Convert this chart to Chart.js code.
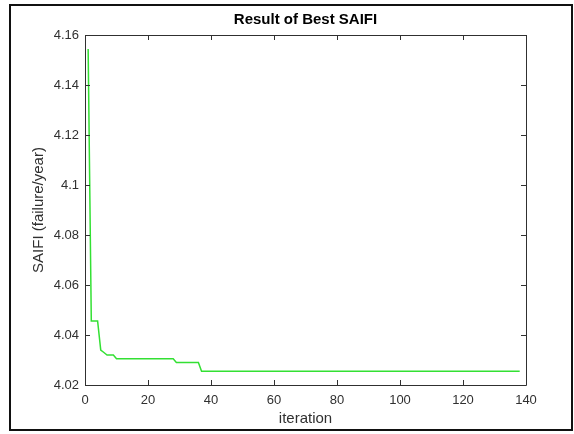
<!DOCTYPE html>
<html>
<head>
<meta charset="utf-8">
<title>Result of Best SAIFI</title>
<script src="https://cdn.jsdelivr.net/npm/chart.js@4.4.1/dist/chart.umd.min.js"></script>
<style>
  html, body { margin: 0; padding: 0; background: #fff; }
  canvas { display: block; }
</style>
</head>
<body>
<canvas id="saifiChart" width="574" height="434"></canvas>
<script>
// Valori (iterația 1..138)
const saifi = [
    4.1544, 4.0456, 4.0456, 4.0456, 4.0340, 4.0330, 4.0320, 4.0320, 4.0320, 4.0305,
    4.0305, 4.0305, 4.0305, 4.0305, 4.0305, 4.0305, 4.0305, 4.0305, 4.0305, 4.0305,
    4.0305, 4.0305, 4.0305, 4.0305, 4.0305, 4.0305, 4.0305, 4.0305, 4.0290, 4.0290,
    4.0290, 4.0290, 4.0290, 4.0290, 4.0290, 4.0290, 4.0255, 4.0255, 4.0255, 4.0255,
    4.0255, 4.0255, 4.0255, 4.0255, 4.0255, 4.0255, 4.0255, 4.0255, 4.0255, 4.0255,
    4.0255, 4.0255, 4.0255, 4.0255, 4.0255, 4.0255, 4.0255, 4.0255, 4.0255, 4.0255,
    4.0255, 4.0255, 4.0255, 4.0255, 4.0255, 4.0255, 4.0255, 4.0255, 4.0255, 4.0255,
    4.0255, 4.0255, 4.0255, 4.0255, 4.0255, 4.0255, 4.0255, 4.0255, 4.0255, 4.0255,
    4.0255, 4.0255, 4.0255, 4.0255, 4.0255, 4.0255, 4.0255, 4.0255, 4.0255, 4.0255,
    4.0255, 4.0255, 4.0255, 4.0255, 4.0255, 4.0255, 4.0255, 4.0255, 4.0255, 4.0255,
    4.0255, 4.0255, 4.0255, 4.0255, 4.0255, 4.0255, 4.0255, 4.0255, 4.0255, 4.0255,
    4.0255, 4.0255, 4.0255, 4.0255, 4.0255, 4.0255, 4.0255, 4.0255, 4.0255, 4.0255,
    4.0255, 4.0255, 4.0255, 4.0255, 4.0255, 4.0255, 4.0255, 4.0255, 4.0255, 4.0255,
    4.0255, 4.0255, 4.0255, 4.0255, 4.0255, 4.0255, 4.0255, 4.0255
];

const xTicks = [0, 20, 40, 60, 80, 100, 120, 140];
const yTicks = [4.02, 4.04, 4.06, 4.08, 4.1, 4.12, 4.14, 4.16];
const yTickLabels = ['4.02', '4.04', '4.06', '4.08', '4.1', '4.12', '4.14', '4.16'];

const AXIS_COLOR = '#303030';
const FONT = "'Liberation Sans', Arial, Helvetica, sans-serif";

Chart.defaults.font.family = FONT;
Chart.defaults.color = AXIS_COLOR;

// Chenar exterior + cutia axelor cu gradații spre interior
const matlabBox = {
    id: 'matlabBox',
    beforeDraw: (chart) => {
        const ctx = chart.ctx;
        ctx.save();
        ctx.fillStyle = '#fff';
        ctx.fillRect(0, 0, chart.width, chart.height);
        ctx.strokeStyle = '#111';
        ctx.lineWidth = 2;
        ctx.strokeRect(10, 5, 562, 425);
        ctx.restore();
    },
    afterDraw: (chart) => {
        const ctx = chart.ctx;
        const { left, right, top, bottom } = chart.chartArea;
        const xs = chart.scales.x;
        const ys = chart.scales.y;
        const len = 5;
        ctx.save();
        ctx.strokeStyle = AXIS_COLOR;
        ctx.lineWidth = 1;
        ctx.beginPath();
        ctx.rect(Math.round(left) + 0.5, Math.round(top) + 0.5,
                 Math.round(right - left), Math.round(bottom - top));
        xs.ticks.forEach(t => {
            const px = Math.round(xs.getPixelForValue(t.value)) + 0.5;
            ctx.moveTo(px, bottom);
            ctx.lineTo(px, bottom - len);
            ctx.moveTo(px, top);
            ctx.lineTo(px, top + len);
        });
        ys.ticks.forEach(t => {
            const py = Math.round(ys.getPixelForValue(t.value)) + 0.5;
            ctx.moveTo(left, py);
            ctx.lineTo(left + len, py);
            ctx.moveTo(right, py);
            ctx.lineTo(right - len, py);
        });
        ctx.stroke();
        ctx.restore();
    }
};

new Chart(document.getElementById('saifiChart'), {
    type: 'line',
    data: {
        datasets: [{
            data: saifi.map((v, i) => ({ x: i + 1, y: v })),
            borderColor: '#33e033',
            borderWidth: 1.5,
            pointRadius: 0,
            tension: 0,
            fill: false
        }]
    },
    options: {
        responsive: false,
        animation: false,
        devicePixelRatio: 1,
        layout: { padding: { left: 0, right: 48, top: 0, bottom: 0 } },
        plugins: {
            legend: { display: false },
            tooltip: { enabled: false },
            title: {
                display: true,
                text: 'Result of Best SAIFI',
                fullSize: false,
                color: '#000',
                font: { family: FONT, size: 15, weight: 'bold' },
                padding: { top: 11, bottom: 6 }
            }
        },
        scales: {
            x: {
                type: 'linear',
                min: 0,
                max: 140,
                afterBuildTicks: (scale) => { scale.ticks = xTicks.map(v => ({ value: v })); },
                afterFit: (scale) => { scale.height = 49; },
                grid: { drawOnChartArea: false, drawTicks: false },
                border: { display: false },
                ticks: {
                    font: { size: 13 },
                    color: AXIS_COLOR,
                    padding: 8,
                    maxRotation: 0,
                    callback: (value) => String(value)
                },
                title: {
                    display: true,
                    text: 'iteration',
                    color: AXIS_COLOR,
                    font: { size: 15 },
                    padding: { top: 0, bottom: 6 }
                }
            },
            y: {
                type: 'linear',
                min: 4.02,
                max: 4.16,
                afterBuildTicks: (scale) => { scale.ticks = yTicks.map(v => ({ value: v })); },
                afterFit: (scale) => { scale.width = 85; },
                grid: { drawOnChartArea: false, drawTicks: false },
                border: { display: false },
                ticks: {
                    font: { size: 13 },
                    color: AXIS_COLOR,
                    padding: 6,
                    callback: (value, index) => yTickLabels[index]
                },
                title: {
                    display: true,
                    text: 'SAIFI (failure/year)',
                    color: AXIS_COLOR,
                    font: { size: 15 },
                    padding: { top: 30, bottom: 0 }
                }
            }
        }
    },
    plugins: [matlabBox]
});
</script>
</body>
</html>
